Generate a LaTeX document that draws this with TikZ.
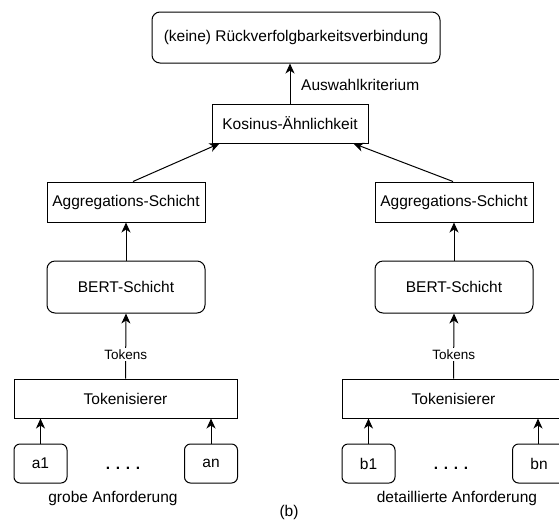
\documentclass[tikz,border=0pt]{standalone}
\usepackage{fontspec}
\setmainfont{Liberation Sans}
\usetikzlibrary{arrows.meta,calc}
\begin{document}
\begin{tikzpicture}[x=1pt,y=-1pt,
  every node/.style={font=\fontsize{15.5}{18}\selectfont, inner sep=0pt},
  box/.style={draw, line width=1pt, rectangle},
  rbox/.style={draw, line width=1pt, rectangle, rounded corners=8pt},
  sbox/.style={draw, line width=1pt, rectangle, rounded corners=6pt, minimum width=53pt, minimum height=39pt},
  arr/.style={line width=1pt, -{Stealth[length=10pt,width=9pt,inset=3pt]}},
  lbl/.style={font=\fontsize{13.5}{16}\selectfont, fill=white, inner sep=1.5pt}
]
\useasboundingbox (0,0) rectangle (559,523);
\node[rbox, minimum width=288pt, minimum height=51pt] (top) at (296,37.5) {(keine) Rückverfolgbarkeitsverbindung};
\node[box, minimum width=156pt, minimum height=39pt] (kos) at (290,123.5) {Kosinus-Ähnlichkeit};
\node[box, minimum width=158pt, minimum height=40pt] (aggL) at (126,202) {Aggregations-Schicht};
\node[box, minimum width=158pt, minimum height=40pt] (aggR) at (454,202) {Aggregations-Schicht};
\node[rbox, minimum width=158pt, minimum height=52pt] (bertL) at (126,287) {BERT-Schicht};
\node[rbox, minimum width=158pt, minimum height=52pt] (bertR) at (454,287) {BERT-Schicht};
\node[box, minimum width=223pt, minimum height=39pt] (tokL) at (125.5,398.5) {Tokenisierer};
\node[box, minimum width=223pt, minimum height=39pt] (tokR) at (453.5,398.5) {Tokenisierer};
\node[sbox] (a1) at (40.5,463.5) {a1};
\node[sbox] (an) at (211,463.5) {an};
\node[sbox] (b1) at (368.5,463.5) {b1};
\node[sbox] (bn) at (539,463.5) {bn};
\node[anchor=base] (dotsL) at (123,469) {\textbf{. . . .}};
\node[anchor=base] (dotsR) at (451,469) {\textbf{. . . .}};
\node (grob) at (113,498) {grobe Anforderung};
\node (det) at (457,498) {detaillierte Anforderung};
\node (b) at (289,512) {(b)};
% connectors
\draw[arr] (kos.north) -- (kos.north |- top.south);
\node[anchor=west] (aus) at (301,85) {Auswahlkriterium};
\draw[arr] ($(aggL.north)+(7,0)$) -- ($(kos.south west)+(8,0)$);
\draw[arr] ($(aggR.north)+(-1,0)$) -- ($(kos.south east)+(-15,0)$);
\draw[arr] (bertL.north) -- (aggL.south);
\draw[arr] (bertR.north) -- (aggR.south);
\draw[arr] (tokL.north) -- (bertL.south) node[lbl, pos=0.37] (tkL) {Tokens};
\draw[arr] (tokR.north) -- (bertR.south) node[lbl, pos=0.37] (tkR) {Tokens};
\draw[arr] (a1.north) -- (a1.north |- tokL.south);
\draw[arr] (an.north) -- (an.north |- tokL.south);
\draw[arr] (b1.north) -- (b1.north |- tokR.south);
\draw[arr] ($(bn.north)+(-1,0)$) -- ($(bn.north |- tokR.south)+(-1,0)$);
\end{tikzpicture}
\end{document}
